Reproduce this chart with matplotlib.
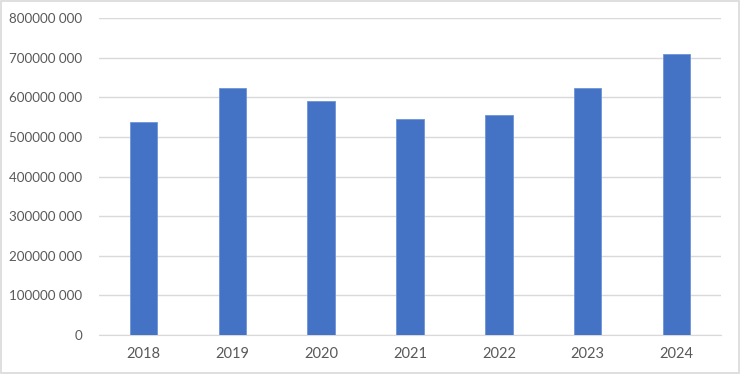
import matplotlib.pyplot as plt
from matplotlib.ticker import FuncFormatter

years = ["2018", "2019", "2020", "2021", "2022", "2023", "2024"]
values = [537000000, 623000000, 591000000, 545000000, 556000000, 624000000, 710000000]
yticks = [0, 100000000, 200000000, 300000000, 400000000, 500000000,
          600000000, 700000000, 800000000]

plt.rcParams["font.family"] = ["Lato", "DejaVu Sans"]

fig = plt.figure(figsize=(7.4, 3.74), dpi=100)
ax = fig.add_axes([99 / 740, 1 - 335 / 374, (721 - 99) / 740, (335 - 18.2) / 374])

x = range(len(years))
ax.bar(x, values, width=0.31, color="#4472C4", edgecolor="#6E94D6", linewidth=0.6, zorder=3)

ax.set_xlim(-0.5, len(years) - 0.5)
ax.set_ylim(0, 800000000)
ax.set_xticks(list(x))
ax.set_xticklabels(years)
ax.set_yticks(yticks)


def fmt(v, pos):
    v = int(round(v))
    if v == 0:
        return "0"
    return f"{v // 1000} {v % 1000:03d}"


ax.yaxis.set_major_formatter(FuncFormatter(fmt))
ax.grid(axis="y", color="#D9D9D9", linewidth=1, zorder=0)
for s in ["top", "right", "left"]:
    ax.spines[s].set_visible(False)
ax.spines["bottom"].set_color("#D9D9D9")
ax.tick_params(axis="both", length=0, colors="#595959")
ax.tick_params(axis="x", pad=9, labelsize=10.5)
ax.tick_params(axis="y", pad=12, labelsize=9.6)

# outer border of the chart area
fig.patches.append(plt.Rectangle((0.001, 0.002), 0.997, 0.995, transform=fig.transFigure,
                                 fill=False, edgecolor="#D9D9D9", linewidth=1.2))

fig.savefig("out.png", dpi=100)
